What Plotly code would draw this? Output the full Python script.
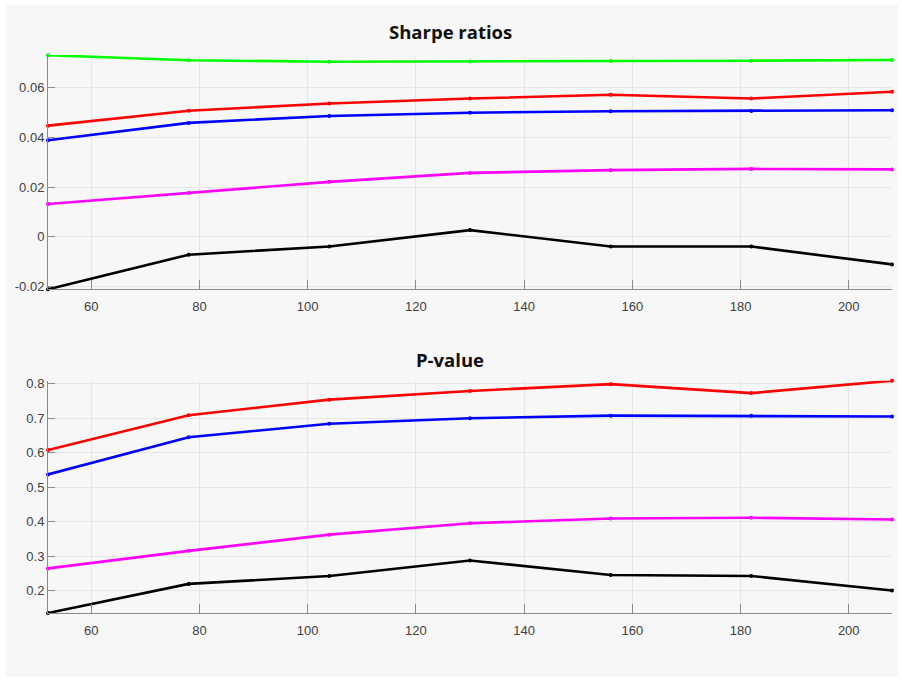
import plotly.graph_objects as go
from plotly.subplots import make_subplots

x_vals = [52, 78, 104, 130, 156, 182, 208]

sharpe_green = [0.0730, 0.0710, 0.0704, 0.0705, 0.0707, 0.0708, 0.0711]
sharpe_red = [0.0447, 0.0507, 0.0536, 0.0556, 0.0571, 0.0556, 0.0583]
sharpe_blue = [0.0388, 0.0458, 0.0486, 0.0499, 0.0505, 0.0506, 0.0509]
sharpe_magenta = [0.0132, 0.0176, 0.0221, 0.0257, 0.0268, 0.0273, 0.0271]
sharpe_black = [-0.0211, -0.0072, -0.0039, 0.0027, -0.0039, -0.0039, -0.0111]

pval_red = [0.6075, 0.7087, 0.754, 0.779, 0.799, 0.773, 0.809]
pval_blue = [0.537, 0.645, 0.684, 0.700, 0.7075, 0.707, 0.705]
pval_magenta = [0.264, 0.315, 0.362, 0.395, 0.409, 0.411, 0.406]
pval_black = [0.1345, 0.219, 0.242, 0.287, 0.245, 0.242, 0.200]

x_ticks = [60, 80, 100, 120, 140, 160, 180, 200]
x_ticklabels = ["60", "80", "100", "120", "140", "160", "180", "200"]
sharpe_ticks = [-0.02, 0, 0.02, 0.04, 0.06]
sharpe_ticklabels = ["-0.02", "0", "0.02", "0.04", "0.06"]
pval_ticks = [0.2, 0.3, 0.4, 0.5, 0.6, 0.7, 0.8]
pval_ticklabels = ["0.2", "0.3", "0.4", "0.5", "0.6", "0.7", "0.8"]

titles = ["Sharpe ratios", "P-value"]

fig = make_subplots(rows=2, cols=1)

top_series = [
    (sharpe_green, "#00ff00"),
    (sharpe_red, "#ff0000"),
    (sharpe_blue, "#0000ff"),
    (sharpe_magenta, "#ff00ff"),
    (sharpe_black, "#000000"),
]
bot_series = [
    (pval_red, "#ff0000"),
    (pval_blue, "#0000ff"),
    (pval_magenta, "#ff00ff"),
    (pval_black, "#000000"),
]

for vals, col in top_series:
    fig.add_trace(go.Scatter(x=x_vals, y=vals, mode="lines+markers",
                             line=dict(color=col, width=2.6),
                             marker=dict(color=col, size=4),
                             showlegend=False, cliponaxis=False), row=1, col=1)
for vals, col in bot_series:
    fig.add_trace(go.Scatter(x=x_vals, y=vals, mode="lines+markers",
                             line=dict(color=col, width=2.6),
                             marker=dict(color=col, size=4),
                             showlegend=False, cliponaxis=False), row=2, col=1)

W, H = 902, 682
ml, mr, mt, mb = 48, 10, 55, 69
pw = W - ml - mr
ph = H - mt - mb

axis_common = dict(
    showline=True, linecolor="#8a8a8a", linewidth=1,
    showgrid=True, gridcolor="#e6e6e6", gridwidth=1,
    zeroline=False, ticks="inside", tickcolor="#8a8a8a",
    tickfont=dict(family="Liberation Sans, Arial, sans-serif", size=13, color="#404040"),
    mirror=False,
)

fig.update_xaxes(range=[52, 208], tickvals=x_ticks, ticktext=x_ticklabels,
                 ticklen=9, ticklabelstandoff=5, **axis_common)
fig.update_yaxes(ticklen=7, **axis_common)
fig.update_yaxes(range=[-0.0211, 0.0731], tickvals=sharpe_ticks,
                 ticktext=sharpe_ticklabels, row=1, col=1)
fig.update_yaxes(range=[0.1345, 0.809], tickvals=pval_ticks,
                 ticktext=pval_ticklabels, row=2, col=1)

top_bottom_frac = (mt + ph - 289.3) / ph
bot_top_frac = (mt + ph - 380.7) / ph
fig.update_layout(
    yaxis=dict(domain=[top_bottom_frac, 1.0]),
    yaxis2=dict(domain=[0.0, bot_top_frac]),
)

# grey figure panel behind everything
fig.add_shape(type="rect", xref="paper", yref="paper",
              x0=(6 - ml) / pw, x1=(898 - ml) / pw,
              y0=(mt + ph - 677) / ph, y1=(mt + ph - 5) / ph,
              fillcolor="#f7f7f7", line=dict(width=0), layer="below")

title_font = dict(family="Open Sans, DejaVu Sans, sans-serif", size=18.5, color="#111111")
fig.add_annotation(text="<b>" + titles[0] + "</b>", xref="paper", yref="paper",
                   x=(450 - ml) / pw, y=(mt + ph - 31) / ph,
                   showarrow=False, font=title_font, xanchor="center", yanchor="middle")
fig.add_annotation(text="<b>" + titles[1] + "</b>", xref="paper", yref="paper",
                   x=(450 - ml) / pw, y=(mt + ph - 359) / ph,
                   showarrow=False, font=title_font, xanchor="center", yanchor="middle")

fig.update_layout(
    width=W, height=H,
    margin=dict(l=ml, r=mr, t=mt, b=mb),
    paper_bgcolor="#ffffff",
    plot_bgcolor="rgba(0,0,0,0)",
)

fig.write_html("out.html")
